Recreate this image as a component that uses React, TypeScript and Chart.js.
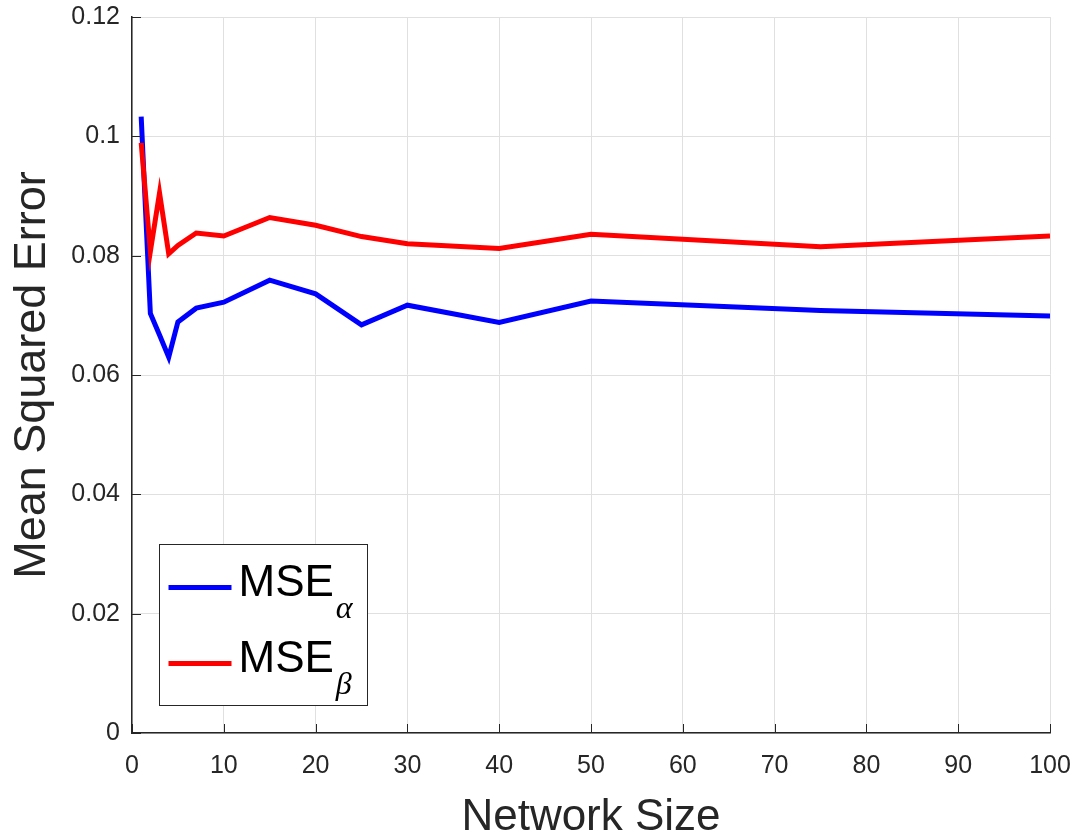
import React, { useEffect, useRef } from "react";
import { Chart, registerables } from "chart.js";

Chart.register(...registerables);

// Network sizes at which the errors were evaluated
const networkSizes = [1, 2, 3, 4, 5, 7, 10, 15, 20, 25, 30, 40, 50, 75, 100];
// Mean squared error of alpha and beta estimates
const mseAlpha = [0.1033, 0.0703, 0.0667, 0.063, 0.0689, 0.0712, 0.0722, 0.0759, 0.0736, 0.0684, 0.0717, 0.0688, 0.0724, 0.0708, 0.0699];
const mseBeta = [0.0989, 0.0807, 0.0905, 0.0803, 0.0817, 0.0838, 0.0833, 0.0864, 0.0851, 0.0832, 0.082, 0.0812, 0.0836, 0.0815, 0.0833];
// Legend text: base name and Greek subscript
const seriesNames = ["MSE", "MSE"];
const seriesSubscripts = ["α", "β"];
const xTickStep = 10;
const yTickStep = 0.02;

const SANS = '"Liberation Sans", Arial, Helvetica, sans-serif';
const AXIS_COLOR = "#262626";
const GRID_COLOR = "#e0e0e0";

// Inward tick marks on the left and bottom axes
const inwardTicks = {
  id: "inwardTicks",
  afterDatasetsDraw(chart: any) {
    const { ctx, chartArea, scales } = chart;
    const len = 9;
    ctx.save();
    ctx.strokeStyle = AXIS_COLOR;
    ctx.lineWidth = 1;
    ctx.beginPath();
    scales.x.ticks.forEach((t: any) => {
      const px = Math.round(scales.x.getPixelForValue(t.value)) + 0.5;
      ctx.moveTo(px, chartArea.bottom);
      ctx.lineTo(px, chartArea.bottom - len);
    });
    scales.y.ticks.forEach((t: any) => {
      const py = Math.round(scales.y.getPixelForValue(t.value)) + 0.5;
      ctx.moveTo(chartArea.left, py);
      ctx.lineTo(chartArea.left + len, py);
    });
    ctx.stroke();
    ctx.restore();
  },
};

// Boxed legend with subscripted Greek labels
const subscriptLegend = {
  id: "subscriptLegend",
  afterDraw(chart: any) {
    const { ctx, chartArea } = chart;
    const boxLeft = chartArea.left + 27.5;
    const boxTop = chartArea.top + 527.5;
    const boxW = 208;
    const boxH = 161;
    ctx.save();
    ctx.fillStyle = "#ffffff";
    ctx.fillRect(boxLeft, boxTop, boxW, boxH);
    ctx.strokeStyle = AXIS_COLOR;
    ctx.lineWidth = 1;
    ctx.strokeRect(boxLeft, boxTop, boxW, boxH);

    const rowY = [boxTop + 43, boxTop + 119];
    chart.data.datasets.forEach((ds: any, i: number) => {
      const y = rowY[i];
      ctx.strokeStyle = ds.borderColor;
      ctx.lineWidth = ds.borderWidth;
      ctx.beginPath();
      ctx.moveTo(boxLeft + 9, y);
      ctx.lineTo(boxLeft + 72, y);
      ctx.stroke();

      ctx.fillStyle = "#000000";
      ctx.textBaseline = "alphabetic";
      ctx.textAlign = "left";
      ctx.font = `44px ${SANS}`;
      const name = seriesNames[i];
      ctx.fillText(name, boxLeft + 79, y + 8);
      const w = ctx.measureText(name).width;
      ctx.font = `italic 32px "Liberation Serif", "DejaVu Serif", serif`;
      ctx.fillText(seriesSubscripts[i], boxLeft + 79 + w + 2, y + 30);
    });
    ctx.restore();
  },
};

export default function App() {
  const canvasRef = useRef<HTMLCanvasElement | null>(null);

  useEffect(() => {
    const canvas = canvasRef.current;
    if (!canvas) return;
    const chart = new Chart(canvas, {
      type: "line",
      data: {
        datasets: [
          {
            label: seriesNames[0] + seriesSubscripts[0],
            data: networkSizes.map((x, i) => ({ x, y: mseAlpha[i] })),
            borderColor: "#0000ff",
            backgroundColor: "#0000ff",
            borderWidth: 5,
            pointRadius: 0,
            tension: 0,
            order: 1,
          },
          {
            label: seriesNames[1] + seriesSubscripts[1],
            data: networkSizes.map((x, i) => ({ x, y: mseBeta[i] })),
            borderColor: "#ff0000",
            backgroundColor: "#ff0000",
            borderWidth: 5,
            pointRadius: 0,
            tension: 0,
            order: 0,
          },
        ],
      },
      options: {
        responsive: false,
        animation: false,
        layout: { padding: { left: 0, top: 17, right: 28, bottom: 0 } },
        plugins: {
          legend: { display: false },
          tooltip: { enabled: false },
        },
        scales: {
          x: {
            type: "linear",
            min: 0,
            max: 100,
            afterFit: (scale: any) => {
              scale.height = 102;
              scale.paddingLeft = 0;
              scale.paddingRight = 0;
            },
            ticks: {
              stepSize: xTickStep,
              color: AXIS_COLOR,
              font: { family: SANS, size: 25 },
              padding: 18,
              maxRotation: 0,
              autoSkip: false,
            },
            grid: { color: GRID_COLOR, lineWidth: 1, drawTicks: false },
            border: { color: AXIS_COLOR, width: 1.5 },
            title: {
              display: true,
              text: "Network Size",
              color: AXIS_COLOR,
              font: { family: SANS, size: 44, lineHeight: 0.8 },
              padding: { top: 1, bottom: 0 },
            },
          },
          y: {
            type: "linear",
            min: 0,
            max: 0.12,
            afterFit: (scale: any) => {
              scale.width = 132;
              scale.paddingTop = 0;
              scale.paddingBottom = 0;
            },
            ticks: {
              stepSize: yTickStep,
              color: AXIS_COLOR,
              font: { family: SANS, size: 25 },
              padding: 12,
              callback: (v: any) => String(Number(Number(v).toFixed(3))),
            },
            grid: { color: GRID_COLOR, lineWidth: 1, drawTicks: false },
            border: { color: AXIS_COLOR, width: 1.5 },
            title: {
              display: true,
              text: "Mean Squared Error",
              color: AXIS_COLOR,
              font: { family: SANS, size: 45, lineHeight: 0.8 },
              padding: { top: 15, bottom: 0 },
            },
          },
        },
      },
      plugins: [inwardTicks, subscriptLegend],
    });
    return () => chart.destroy();
  }, []);

  return (
    <div style={{ position: "fixed", left: 0, top: 0, width: 1078, height: 835, background: "#fff" }}>
      <canvas ref={canvasRef} width={1078} height={835} style={{ display: "block" }} />
    </div>
  );
}
